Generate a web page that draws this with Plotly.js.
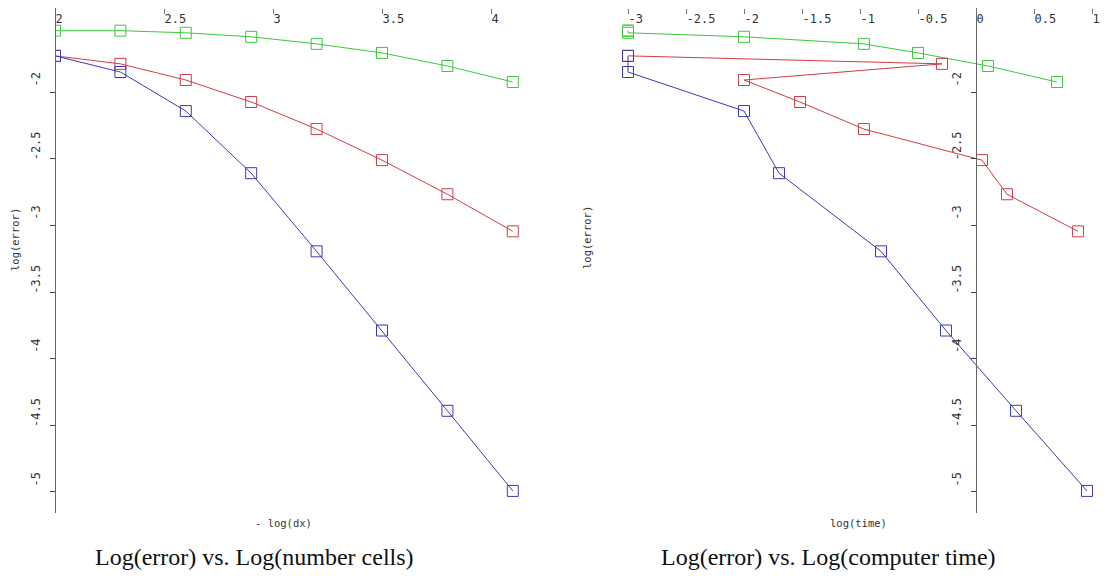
<!DOCTYPE html>
<html>
<head>
<meta charset="utf-8">
<script src="https://cdn.plot.ly/plotly-3.0.1.min.js"></script>
<style>html,body{margin:0;padding:0;background:#fff;}#chart{width:1113px;height:578px;}</style>
</head>
<body>
<div id="chart"></div>
<script>
// ---- data ----
const logCells = [2, 2.3, 2.6, 2.9, 3.2, 3.5, 3.8, 4.1];
const errGreen = [-1.54, -1.54, -1.556, -1.586, -1.639, -1.707, -1.805, -1.925];
const errRed   = [-1.729, -1.789, -1.91, -2.075, -2.278, -2.511, -2.767, -3.045];
const errBlue  = [-1.729, -1.85, -2.143, -2.609, -3.195, -3.789, -4.391, -4.992];

const timeGreen = [-3, -3, -3, -2.0, -0.966, -0.50, 0.103, 0.698];
const timeRed   = [-3, -0.293, -2.0, -1.517, -0.966, 0.052, 0.267, 0.879];
const timeBlue  = [-3, -3, -2.0, -1.698, -0.819, -0.259, 0.345, 0.957];

const xTicksCells = [2, 2.5, 3, 3.5, 4];
const xTicksTime = [-3, -2.5, -2, -1.5, -1, -0.5, 0, 0.5, 1];
const yTicks = [-1.5, -2, -2.5, -3, -3.5, -4, -4.5, -5];

const titleLeft = 'Log(error) vs. Log(number cells)';
const titleRight = 'Log(error) vs. Log(computer time)';

// ---- styling ----
const W = 1113, H = 578;
const colGreen = '#3cc83c', colRed = '#d23c46', colBlue = '#3a3ab4';
const tickFont = {family: 'DejaVu Sans Mono, monospace', size: 12, color: '#333'};
const mono = {family: 'DejaVu Sans Mono, monospace', size: 10.5, color: '#333'};

function tr(x, y, c, xa, ya) {
  return {x: x, y: y, type: 'scatter', mode: 'lines+markers', xaxis: xa, yaxis: ya,
    line: {color: c, width: 1},
    marker: {symbol: 'square-open', size: 11, color: c, line: {color: c, width: 1}},
    showlegend: false, hoverinfo: 'skip'};
}

const data = [
  tr(logCells, errGreen, colGreen, 'x', 'y'),
  tr(logCells, errRed, colRed, 'x', 'y'),
  tr(logCells, errBlue, colBlue, 'x', 'y'),
  tr(timeGreen, errGreen, colGreen, 'x2', 'y2'),
  tr(timeRed, errRed, colRed, 'x2', 'y2'),
  tr(timeBlue, errBlue, colBlue, 'x2', 'y2')
];

const yTop = 8, yBot = 513;
const yDom = [1 - yBot / H, 1 - yTop / H];
const yRange = [-2 - (yBot - 92) / 133.33, -2 + (92 - yTop) / 133.33];

function xAx(dom, rng, ticks) {
  return {domain: dom, range: rng, side: 'top', anchor: 'free', position: yDom[1],
    tickmode: 'array', tickvals: ticks, ticktext: ticks.map(String),
    ticks: 'inside', ticklen: 5, tickcolor: '#777', tickwidth: 1,
    ticklabelposition: 'inside right', tickfont: tickFont,
    showline: false, showgrid: false, zeroline: false, fixedrange: true};
}
function yAx(pos, extra) {
  return Object.assign({domain: yDom, range: yRange, anchor: 'free', position: pos,
    tickmode: 'array', tickvals: yTicks, ticktext: yTicks.map(String),
    ticks: 'outside', ticklen: 5, tickcolor: '#444', tickwidth: 1,
    tickangle: -90, tickfont: tickFont, ticklabelshift: -11, ticklabelstandoff: 5,
    showline: true, linecolor: '#666', linewidth: 1,
    showgrid: false, zeroline: false, fixedrange: true}, extra || {});
}

function ann(text, px, py, font, angle) {
  return {text: text, x: px / W, y: 1 - py / H, xref: 'paper', yref: 'paper',
    xanchor: 'center', yanchor: 'middle', showarrow: false, textangle: angle || 0, font: font};
}
const serif = {family: 'Liberation Serif, serif', size: 24, color: '#111'};

const layout = {
  width: W, height: H,
  margin: {l: 0, r: 0, t: 0, b: 0},
  paper_bgcolor: '#fff', plot_bgcolor: 'rgba(0,0,0,0)',
  xaxis: xAx([55 / W, 524 / W], [2, 2 + 469 / 218], xTicksCells),
  yaxis: yAx(55 / W),
  xaxis2: xAx([620 / W, 1100 / W], [-3 - 8 / 116, 1 + 8 / 116], xTicksTime),
  yaxis2: yAx(976 / W),
  // overlay axes so the tick marks cross the axis line
  yaxis3: yAx(55 / W, {overlaying: 'y', ticks: 'inside', showticklabels: false, showline: false}),
  yaxis4: yAx(976 / W, {overlaying: 'y2', ticks: 'inside', showticklabels: false, showline: false}),
  annotations: [
    ann('- log(dx)', 283, 523, mono),
    ann('log(time)', 858, 523, mono),
    ann('log(error)', 15, 240, mono, -90),
    ann('log(error)', 587, 238, mono, -90),
    ann(titleLeft, 254, 557, serif),
    ann(titleRight, 828, 557, serif)
  ]
};

Plotly.newPlot('chart', data, layout, {staticPlot: true, displayModeBar: false});
</script>
</body>
</html>
